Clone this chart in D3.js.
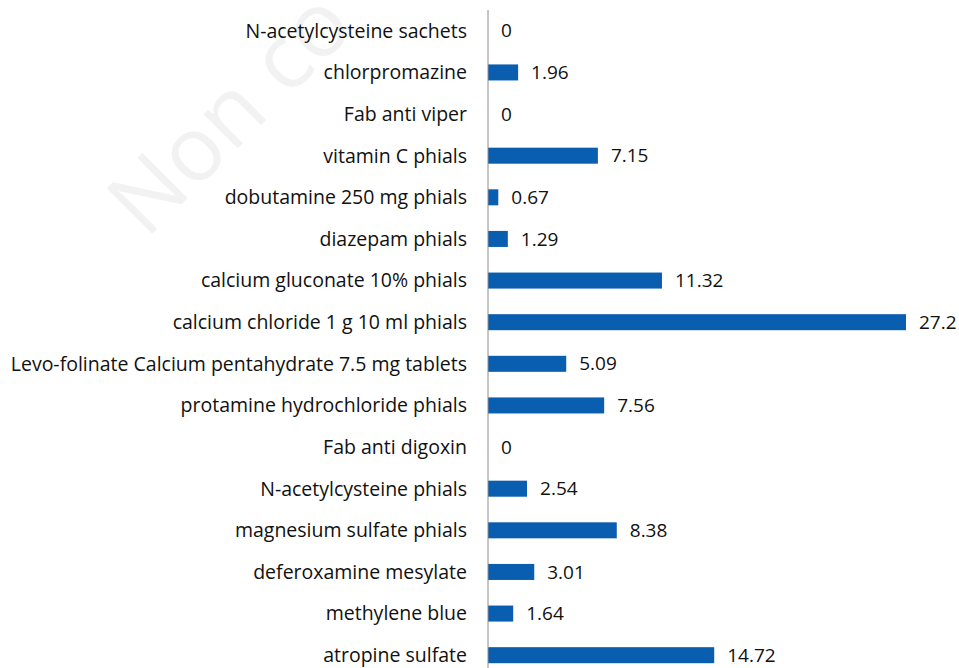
<!DOCTYPE html>
<html>
<head>
<meta charset="utf-8">
<script src="https://cdn.jsdelivr.net/npm/d3@7"></script>
<style>
  body { margin: 0; background: #fff; }
  svg { display: block; }
</style>
</head>
<body>
<div id="chart"></div>
<script>
// drugs, top to bottom
const drugs = [
  "N-acetylcysteine sachets",
  "chlorpromazine",
  "Fab anti viper",
  "vitamin C phials",
  "dobutamine 250 mg phials",
  "diazepam phials",
  "calcium gluconate 10% phials",
  "calcium chloride 1 g 10 ml phials",
  "Levo-folinate Calcium pentahydrate 7.5 mg tablets",
  "protamine hydrochloride phials",
  "Fab anti digoxin",
  "N-acetylcysteine phials",
  "magnesium sulfate phials",
  "deferoxamine mesylate",
  "methylene blue",
  "atropine sulfate"
];
const values = [0, 1.96, 0, 7.15, 0.67, 1.29, 11.32, 27.2, 5.09, 7.56, 0, 2.54, 8.38, 3.01, 1.64, 14.72];
const valueLabels = ["0", "1.96", "0", "7.15", "0.67", "1.29", "11.32", "27.2", "5.09", "7.56", "0", "2.54", "8.38", "3.01", "1.64", "14.72"];

const width = 959;
const height = 668;
const margin = { top: 10, right: 53, bottom: -8, left: 488 };

const svg = d3.select("#chart")
  .append("svg")
  .attr("width", width)
  .attr("height", height);

const font = "'Open Sans', sans-serif";

// watermark (only the visible part)
svg.append("text")
  .attr("transform", "translate(146,240) rotate(-45)")
  .attr("font-family", font)
  .attr("font-size", 90)
  .attr("fill", "#f2f2f2")
  .text("Non co");

const x = d3.scaleLinear()
  .domain([0, 27.2])
  .range([margin.left, width - margin.right]);

const y = d3.scaleBand()
  .domain(drugs)
  .range([margin.top, height - margin.bottom])
  .paddingInner(0.615)
  .paddingOuter(0.3075);

// bars
svg.append("g")
  .selectAll("rect")
  .data(drugs)
  .join("rect")
  .attr("x", x(0))
  .attr("y", d => y(d))
  .attr("width", (d, i) => x(values[i]) - x(0))
  .attr("height", y.bandwidth())
  .attr("fill", "#0a5eb0");

// axis line
svg.append("line")
  .attr("x1", x(0)).attr("x2", x(0))
  .attr("y1", margin.top).attr("y2", height)
  .attr("stroke", "#8c8c8c")
  .attr("stroke-width", 1);

// category labels
svg.append("g")
  .selectAll("text")
  .data(drugs)
  .join("text")
  .attr("x", x(0) - 21)
  .attr("y", d => y(d) + y.bandwidth() / 2)
  .attr("dy", "0.35em")
  .attr("text-anchor", "end")
  .attr("font-family", font)
  .attr("font-size", 19.5)
  .attr("fill", "#111")
  .text(d => d);

// value labels
svg.append("g")
  .selectAll("text")
  .data(drugs)
  .join("text")
  .attr("x", (d, i) => x(values[i]) + 13)
  .attr("y", d => y(d) + y.bandwidth() / 2)
  .attr("dy", "0.35em")
  .attr("font-family", font)
  .attr("font-size", 19)
  .attr("fill", "#111")
  .text((d, i) => valueLabels[i]);
</script>
</body>
</html>
